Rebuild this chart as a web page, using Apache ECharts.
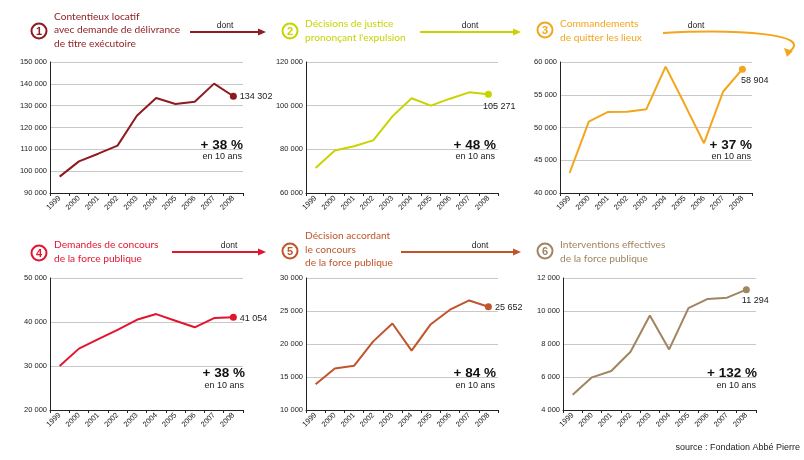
<!DOCTYPE html>
<html><head><meta charset="utf-8">
<script src="https://cdn.jsdelivr.net/npm/echarts@6/dist/echarts.min.js"></script>
<style>html,body{margin:0;padding:0;background:#fff}#c{width:804px;height:460px}</style>
</head><body><div id="c"></div><script>
// ---- data ----
const years = ['1999','2000','2001','2002','2003','2004','2005','2006','2007','2008'];
const contentieux   = [97500,104500,108000,111700,125400,133500,130800,131800,140100,134302];
const decisions     = [71500,79500,81400,84100,95100,103400,100000,103200,106100,105271];
const commandements = [43050,50900,52370,52400,52800,59300,53500,47600,55500,58904];
const demandes      = [30000,33950,36100,38200,40500,41800,40300,38800,40900,41054];
const accordant     = [13900,16300,16700,20400,23100,19000,23000,25200,26600,25652];
const interventions = [4930,5980,6360,7530,9730,7670,10170,10730,10810,11294];
const growthLabels  = ['+ 38 %','+ 48 %','+ 37 %','+ 38 %','+ 84 %','+ 132 %'];
const titleTexts = [
  'Contentieux locatif\navec demande de délivrance\nde titre exécutoire',
  'Décisions de justice\nprononçant l\'expulsion',
  'Commandements\nde quitter les lieux',
  'Demandes de concours\nde la force publique',
  'Décision accordant\nle concours\nde la force publique',
  'Interventions effectives\nde la force publique'
];
const yMins = [90000,60000,40000,20000,10000,4000];
const yMaxs = [150000,120000,60000,50000,30000,12000];
const yIntervals = [10000,20000,5000,10000,5000,2000];
const arrowWord = 'dont';
const sourceText = 'source : Fondation Abbé Pierre';

// ---- layout / style ----
const seriesData = [contentieux, decisions, commandements, demandes, accordant, interventions];
const colors = ['#8e1b1f','#c8d400','#f3a61c','#e2152f','#c0552b','#a08560'];
const grids = [
  {left:50, top:62, width:193, height:131},
  {left:306, top:62, width:192, height:131},
  {left:560, top:62, width:192, height:131},
  {left:50, top:278, width:193, height:132},
  {left:306, top:278, width:192, height:132},
  {left:563, top:278, width:193, height:132}
];
const endLabelOffsets = [[0,0],[-12,12],[-8,11],[0,1],[0,1],[-11,11]];
const circles = [[39,31],[290,31],[545,30],[39,253],[290,251],[545,251]];
const titleTops = [10,17.5,17.5,238.5,229.5,238.5];
const growthPos = [[243,145],[496,145],[752,145],[245,373.5],[496,373.5],[757,373.5]];

const fmt = v => String(v).replace(/\B(?=(\d{3})+(?!\d))/g, ' ');
const axisFont = 'Liberation Sans, Arial, sans-serif';
const titleFont = 'Lato, sans-serif';

const option = {
  animation:false,
  backgroundColor:'#fff',
  grid: grids.map(g => Object.assign({containLabel:false, outerBoundsMode:'none'}, g)),
  xAxis: grids.map((g,i) => ({
    type:'category', gridIndex:i, data:years, boundaryGap:true,
    axisLine:{lineStyle:{color:'#222', width:1}},
    axisTick:{show:true, length:3, lineStyle:{color:'#222'}},
    axisLabel:{rotate:45, fontSize:7.5, color:'#222', fontFamily:axisFont, margin:4, interval:0},
    splitLine:{show:false}
  })),
  yAxis: grids.map((g,i) => ({
    type:'value', gridIndex:i, min:yMins[i], max:yMaxs[i], interval:yIntervals[i],
    axisLine:{show:true, lineStyle:{color:'#222', width:1}},
    axisTick:{show:false},
    axisLabel:{fontSize:7.5, color:'#222', fontFamily:axisFont, margin:3, formatter:fmt},
    splitLine:{show:true, lineStyle:{color:'#c8c8c8', width:1}}
  })),
  series: seriesData.map((d,i) => ({
    type:'line', xAxisIndex:i, yAxisIndex:i,
    symbol:'none', showSymbol:true,
    lineStyle:{color:colors[i], width:2},
    itemStyle:{color:colors[i]},
    data: d.map((v,k) => k === d.length-1 ? {
      value:v, symbol:'circle', symbolSize:7,
      label:{show:true, position:'right', distance:3, offset:endLabelOffsets[i],
        formatter:p => fmt(p.value), fontSize:9, color:'#222', fontFamily:axisFont}
    } : v)
  })),
  graphic: []
};

const G = option.graphic;
// titles and numbered circles
titleTexts.forEach((t,i) => {
  const [cx,cy] = circles[i];
  G.push({type:'circle', shape:{cx:cx, cy:cy, r:7.5}, style:{fill:'#fff', stroke:colors[i], lineWidth:2}});
  G.push({type:'text', x:cx, y:cy+0.5, style:{text:String(i+1), fill:colors[i], font:'bold 11px Liberation Sans, Arial, sans-serif', textAlign:'center', textVerticalAlign:'middle'}});
  G.push({type:'text', x:cx+15, y:titleTops[i], style:{text:t, fill:colors[i], font:'10.2px ' + titleFont, lineHeight:13.3, textAlign:'left', textVerticalAlign:'top'}});
  const [gx,gy] = growthPos[i];
  G.push({type:'text', x:gx, y:gy, z:200, style:{text:growthLabels[i], fill:'#111', font:'bold 13.5px Liberation Sans, Arial, sans-serif', textAlign:'right', textVerticalAlign:'middle'}});
  G.push({type:'text', x:gx-1, y:gy+12, z:200, style:{text:'en 10 ans', fill:'#222', font:'9px Liberation Sans, Arial, sans-serif', textAlign:'right', textVerticalAlign:'middle'}});
});
// straight arrows
function arrow(x1,x2,y,col,wx){
  G.push({type:'line', shape:{x1:x1, y1:y, x2:x2-6, y2:y}, style:{stroke:col, lineWidth:2}});
  G.push({type:'polygon', shape:{points:[[x2,y],[x2-8,y-3.5],[x2-8,y+3.5]]}, style:{fill:col}});
  G.push({type:'text', x:wx, y:y-6.5, style:{text:arrowWord, fill:'#222', font:'8.5px Liberation Sans, Arial, sans-serif', textAlign:'center', textVerticalAlign:'middle'}});
}
arrow(190,266,32,colors[0],225);
arrow(420,521,32,colors[1],470);
arrow(172,266,252,colors[3],229);
arrow(401,521,252,colors[4],480);
// curved arrow (panel 3)
G.push({type:'bezierCurve', shape:{x1:663, y1:33, cpx1:740, cpy1:29, cpx2:812, cpy2:34, x2:790, y2:51}, style:{stroke:colors[2], lineWidth:2, fill:null}});
G.push({type:'polygon', shape:{points:[[787,57],[784,48],[793,51]]}, style:{fill:colors[2]}});
G.push({type:'text', x:696, y:26, style:{text:arrowWord, fill:'#222', font:'8.5px Liberation Sans, Arial, sans-serif', textAlign:'center', textVerticalAlign:'middle'}});
// source
G.push({type:'text', x:800, y:448, style:{text:sourceText, fill:'#222', font:'9px Liberation Sans, Arial, sans-serif', textAlign:'right', textVerticalAlign:'middle'}});

const chart = echarts.init(document.getElementById('c'), null, {renderer:'canvas'});
chart.setOption(option);
</script></body></html>
